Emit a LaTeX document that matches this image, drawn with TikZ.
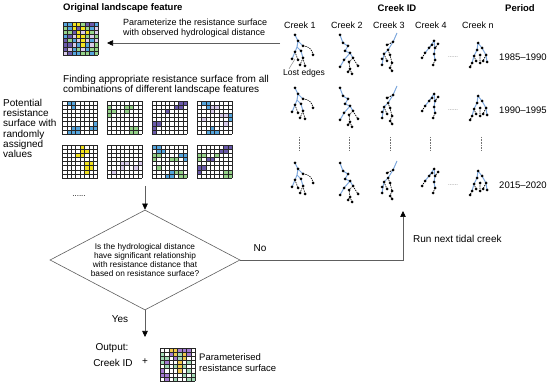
\documentclass[tikz,border=0pt]{standalone}
\usepackage{fontspec}
\setmainfont{Liberation Sans}
\usetikzlibrary{arrows.meta,positioning,calc,shapes.geometric}
\definecolor{cellb}{HTML}{56A6DE}
\definecolor{celly}{HTML}{F3E31E}
\definecolor{cellg}{HTML}{96D38A}
\definecolor{cellp}{HTML}{6B5AAB}
\definecolor{celll}{HTML}{D9CBEA}
\definecolor{cellw}{HTML}{FFFFFF}
\definecolor{cellm}{HTML}{A3DBB6}
\definecolor{cello}{HTML}{F1C94E}
\definecolor{cellv}{HTML}{A57BD1}
\definecolor{streamblue}{HTML}{7EA8DD}
\definecolor{linegray}{HTML}{5E5E5E}

% grid lines of an 8x8 cell grid node
\newcommand\gridlines[1]{%
  \foreach \k in {0,...,8}{
    \draw[gridline] ($(#1.north west)+(\k*4.4,0)$) -- ++(0,32.8);
    \draw[gridline] ($(#1.north west)+(0,\k*4.1)$) -- ++(35.2,0);}}
% grid with a few coloured cells: col/row/colour
\newcommand\sparsegrid[3]{%
  \node[gridbox] (#1) at (#2) {};
  \foreach \cx/\cy/\cc in {#3}
    \fill[cell\cc] ($(#1.north west)+(\cx*4.4,\cy*4.1)$) rectangle ++(4.4,4.1);
  \gridlines{#1}}
% grid with every cell coloured, one list per row
\newcommand\fullgrid[3]{%
  \node[gridbox] (#1) at (#2) {};
  \foreach \cols [count=\cy from 0] in {#3}
    \foreach \cc [count=\cx from 0] in \cols
      \fill[cell\cc] ($(#1.north west)+(\cx*4.4,\cy*4.1)$) rectangle ++(4.4,4.1);
  \gridlines{#1}}

\tikzset{
  stream/.style={draw=streamblue, line width=1pt},
  lost/.style={draw=black, line width=0.7pt, dash pattern=on 1.3pt off 1pt},
  creekone/.pic={
    \draw[stream] (-5,-22)--(-2,-16)--(-3,-10)--(-5,-5)--(-8,2);
    \draw[stream] (-3,-10)--(1,-6)--(3,1);
    \draw[stream] (-2,-16)--(3,-11);
    \draw[lost] (3,-11) to[bend left=45] (13,-2);
    \draw[lost] (-5,-5)--(-2,3) (3,1)--(0,8) (3,1)--(5,9);
    \foreach \px/\py in {-5/-22,-2/-16,3/-11,13/-2,-5/-5,1/-6,-8/2,-2/3,3/1,0/8,5/9}
      \fill (\px,\py) circle[radius=1.5pt];
  },
  creektwo/.pic={
    \draw[stream] (-8,-22)--(-5,-14)--(0,-11)--(-3,-6)--(2,-4)--(5,1);
    \draw[stream] (2,-4)--(-4,3)--(-8,10);
    \draw[lost] (5,1)--(10,9) (5,1)--(1,5)--(2,12)--(0,15) (2,12)--(4,17);
    \foreach \px/\py in {-8/-22,-5/-14,0/-11,-3/-6,2/-4,5/1,-4/3,-8/10,10/9,1/5,2/12,0/15,4/17}
      \fill (\px,\py) circle[radius=1.5pt];
  },
  creekthree/.pic={
    \draw[stream] (7,-24)--(3,-15)--(-2,-7)--(-6,-3)--(-8,8);
    \draw[lost] (3,-15)--(-3,-12) (-2,-7)--(0,-2)--(2,6)--(0,11)--(2,14) (-6,-3)--(-3,4);
    \foreach \px/\py in {3/-15,-3/-12,-2/-7,-6/-3,0/-2,-8/2,-3/4,2/6,-8/8,0/11,2/14}
      \fill (\px,\py) circle[radius=1.5pt];
  },
  creekfour/.pic={
    \draw[stream] (2,-16)--(-3,-9)--(-7,-4);
    \draw[stream] (2,-16)--(3,-9)--(2,-3)--(3,3);
    \draw[lost] (-7,-4)--(-10,1) (6,-13)--(3,-9) (3,3)--(1,8) (0,-12)--(-3,-9);
    \foreach \px/\py in {2/-16,6/-13,0/-12,-3/-9,3/-9,-7/-4,-10/1,2/-3,3/3,1/8}
      \fill (\px,\py) circle[radius=1.5pt];
  },
  creekn/.pic={
    \draw[stream] (-1,-14)--(-2,-7)--(-5,-1)--(-7,6);
    \draw[stream] (-1,-14)--(3,-9)--(7,-2)--(8,5);
    \draw[lost] (-7,6)--(-9,10) (-5,-1)--(-3,4) (1,-2)--(1,6) (7,-2)--(4,4);
    \foreach \px/\py in {-1/-14,3/-9,-2/-7,1/-2,-5/-1,-7/6,-9/10,-3/4,1/6,7/-2,8/5,4/4}
      \fill (\px,\py) circle[radius=1.5pt];
  },
}

\begin{document}
\begin{tikzpicture}[x=1pt, y=-1pt,
    ttl/.style={font=\fontsize{9.5}{11}\selectfont\bfseries, inner sep=0pt},
    txt/.style={font=\fontsize{9}{10}\selectfont, align=left, inner sep=0pt},
    txtl/.style={font=\fontsize{10}{10.2}\selectfont, align=left, inner sep=0pt},
    gridbox/.style={minimum width=35.2pt, minimum height=32.8pt, inner sep=0pt, outer sep=0pt},
    gridline/.style={draw=black!85, line width=0.35pt},
    decide/.style={diamond, draw=linegray, line width=0.6pt, shape aspect=1.9, inner sep=0pt,
                   minimum width=190pt, minimum height=100pt, align=center,
                   font=\fontsize{8.3}{9}\selectfont},
    arr/.style={-{Triangle[length=6pt, width=5.5pt, color=black]}, linegray, line width=0.6pt},
    gapdots/.style={font=\fontsize{6}{6}\selectfont, text=black!55, inner sep=0pt},
    vdots/.style={draw=black!55, line width=0.6pt, dash pattern=on 0.8pt off 0.8pt}]
  \useasboundingbox (0,0) rectangle (550,385);

  % headings
  \node[ttl, anchor=west] (origttl) at (63,8) {Original landscape feature};
  \node[ttl] (creekttl) at (397,8) {Creek ID};
  \node[ttl] (periodttl) at (520,8) {Period};

  % original landscape feature and its parameterisation
  \fullgrid{orig}{80.6,38.5}{{b,b,y,y,g,p,p,b},{g,b,y,p,y,g,b,l},{g,g,p,y,l,y,g,l},{b,p,l,y,y,g,l,g},
    {p,g,b,l,y,l,b,l},{p,p,l,b,y,b,l,g},{p,l,b,g,l,b,g,g},{l,p,b,b,g,g,b,g}}
  \node[txt, anchor=west] (paramtxt) at (123,28.5) {Parameterize the resistance surface\\with observed hydrological distance};
  \coordinate (paramstart) at (280,43);
  \coordinate (paramend) at (107,43);
  \draw[arr] (paramstart) -- (paramend);

  % potential resistance surfaces
  \node[txtl, anchor=west] (findtxt) at (63,85) {Finding appropriate resistance surface from all\\combinations of different landscape features};
  \node[txtl, anchor=west] (potentialtxt) at (3,128.5) {Potential\\resistance\\surface with\\randomly\\assigned\\values};
  \sparsegrid{pa}{80,117.5}{1/0/b,2/0/b,2/1/b,7/5/b,6/6/b,7/6/b,1/7/b,2/7/b,3/7/b,2/6/b,3/6/b}
  \sparsegrid{pb}{124.5,117.5}{0/1/g,0/2/g,1/2/g,0/3/g,4/1/g,5/1/g,4/2/g,5/6/g,6/6/g,5/7/g,6/7/g}
  \sparsegrid{pc}{169.5,117.5}{6/0/p,7/0/p,5/1/p,6/1/p,3/2/p,0/5/p,1/5/p,0/6/p,0/7/p}
  \sparsegrid{pd}{214.5,117.5}{1/0/b,2/0/b,2/1/b,3/1/l,4/1/l,3/2/l,5/3/l,6/3/l,7/3/b,7/4/b,2/7/b,3/7/b,4/7/b,3/6/b,1/4/l,6/5/l}
  \sparsegrid{pe}{80,161.5}{4/0/y,4/1/y,5/1/y,3/2/y,4/2/y,5/4/y,6/4/y,5/5/y,6/5/y,5/6/y}
  \sparsegrid{pf}{124.5,161.5}{3/4/l,4/4/l,3/5/l,6/5/l,7/4/l,1/6/l}
  \sparsegrid{pg}{169.5,161.5}{0/0/b,1/0/b,1/1/b,2/1/b,0/2/g,1/2/g,0/3/g,6/2/b,7/2/b,7/3/b,4/3/g,5/3/g,1/5/g,3/7/b,4/7/b,4/6/b,5/6/g,6/6/g,6/7/g,7/7/g}
  \sparsegrid{ph}{214.5,161.5}{6/0/p,7/0/p,5/1/p,6/1/p,0/2/g,1/2/g,0/3/g,4/2/g,3/3/p,2/3/p,0/5/p,1/5/p,0/6/p,6/6/g,7/6/g,6/7/g,7/7/g}
  \node[font=\fontsize{8}{8}\selectfont, inner sep=0pt] (moregrids) at (79,196) {......};

  % decision
  \coordinate (gridsout) at (145,186);
  \node[decide] (decide) at (145,260) {Is the hydrological distance\\have significant relationship\\with resistance distance that\\based on resistance surface?};
  \draw[arr] (gridsout) -- (decide.north);
  \coordinate (nextcreek) at (403,211);
  \draw[arr] (decide.east) -| (nextcreek);
  \node[txtl] (no) at (260,248) {No};
  \node[txtl, anchor=west] (runtxt) at (413,239) {Run next tidal creek};
  \coordinate (outin) at (145,337);
  \draw[arr] (decide.south) -- (outin);
  \node[txtl] (yes) at (120,319) {Yes};

  % output
  \node[txtl] (outlbl) at (112,348) {Output:};
  \node[txtl] (outid) at (113,363) {Creek ID};
  \node[txtl] (plus) at (145,362) {+};
  \fullgrid{outgrid}{177.6,364.5}{{w,w,o,o,v,v,v,w},{m,w,v,o,m,o,v,w},{m,m,w,v,m,o,w,w},{m,v,w,w,o,w,m,w},
    {w,m,w,m,o,m,w,w},{v,w,w,w,o,w,m,w},{v,v,w,w,w,m,w,m},{w,v,w,m,w,w,m,m}}
  \node[font=\fontsize{9.5}{10.5}\selectfont, align=left, inner sep=0pt, anchor=west] (outtxt) at (199,362.5) {Parameterised\\resistance surface};

  % creeks and periods
  \foreach \cx/\nm [count=\i] in {300/1, 347/2, 389/3, 431/4, 478/n}
    \node[txt] (creek\i) at (\cx,25) {Creek \nm};
  \foreach \py/\yr [count=\i] in {57/1985--1990, 110/1990--1995, 185/2015--2020}{
    \node[txt, font=\fontsize{9.5}{10}\selectfont] (period\i) at (523,\py) {\yr};
    \node[gapdots] (gap\i) at (453,\py) {......};
    \pic at (300,\py) {creekone};
    \pic at (348,\py) {creektwo};
    \pic at (390,\py) {creekthree};
    \pic at (432,\py) {creekfour};
    \pic at (479,\py) {creekn};
  }
  \foreach \cx in {299,349,390,430,481}
    \draw[vdots] (\cx,137) -- (\cx,150);

  % lost edges label
  \node[font=\fontsize{8.5}{9}\selectfont, inner sep=0pt] (lostlbl) at (304,73) {Lost edges};
  \coordinate (lostedge) at (295,59);
  \draw[black!45, line width=0.5pt] ([xshift=6pt]lostlbl.north west) -- (lostedge);
\end{tikzpicture}
\end{document}
